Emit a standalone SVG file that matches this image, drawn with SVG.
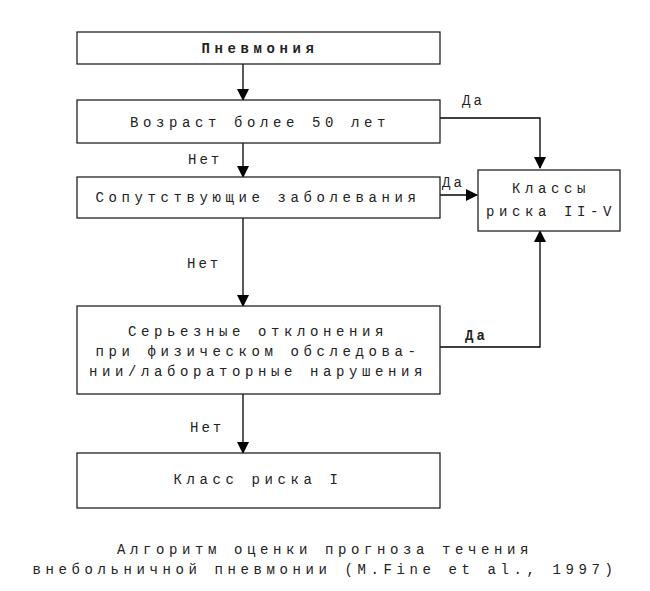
<svg xmlns="http://www.w3.org/2000/svg" width="650" height="591" viewBox="0 0 650 591">
<defs>
<marker id="ah" markerWidth="12" markerHeight="12" refX="11" refY="6" orient="auto" markerUnits="userSpaceOnUse"><path d="M0,0 L12,6 L0,12 Z" fill="#000"/></marker>
<style>
rect{fill:#fff;stroke:#222;stroke-width:1.3}
text{font-family:"Liberation Mono","DejaVu Sans Mono",monospace;font-size:14px;letter-spacing:4.6px;fill:#222;text-anchor:middle}
.c path{fill:none;stroke:#000;stroke-width:1.3}
.l{text-anchor:start;letter-spacing:3px}
</style>
</defs>
<rect x="0" y="0" width="650" height="591" style="fill:#fff;stroke:none"/>
<g class="c">
<path d="M243,64 V100" marker-end="url(#ah)"/>
<path d="M243,143 V177" marker-end="url(#ah)"/>
<path d="M243,218 V306" marker-end="url(#ah)"/>
<path d="M243,394 V453" marker-end="url(#ah)"/>
<path d="M440,118 H540 V168" marker-end="url(#ah)"/>
<path d="M440,195 H477" marker-end="url(#ah)"/>
<path d="M440,347 H540 V231" marker-end="url(#ah)"/>
<text class="l" x="462" y="105">Да</text>
<text class="l" x="188" y="164">Нет</text>
<text class="l" x="442" y="187">Да</text>
<text class="l" x="187" y="268">Нет</text>
<text class="l" x="465" y="340" style="font-weight:bold">Да</text>
<text class="l" x="190" y="432">Нет</text>
</g>
<g id="n1"><rect x="77" y="32" width="363" height="32"/><text x="260" y="53" style="font-weight:bold">Пневмония</text></g>
<g id="n2"><rect x="77" y="100" width="363" height="43"/><text x="260" y="127">Возраст более 50 лет</text></g>
<g id="n3"><rect x="77" y="177" width="363" height="41"/><text x="258" y="202">Сопутствующие заболевания</text></g>
<g id="n4"><rect x="478" y="170" width="142" height="61"/><text x="551" y="193">Классы</text><text x="551" y="216">риска II-V</text></g>
<g id="n5"><rect x="77" y="306" width="363" height="88"/><text x="258" y="336">Серьезные отклонения</text><text x="258" y="356">при физическом обследова-</text><text x="258" y="376">нии/лабораторные нарушения</text></g>
<g id="n6"><rect x="77" y="453" width="363" height="55"/><text x="258" y="484">Класс риска I</text></g>
<text x="325" y="554">Алгоритм оценки прогноза течения</text>
<text x="325" y="574">внебольничной пневмонии (M.Fine et al., 1997)</text>
</svg>
